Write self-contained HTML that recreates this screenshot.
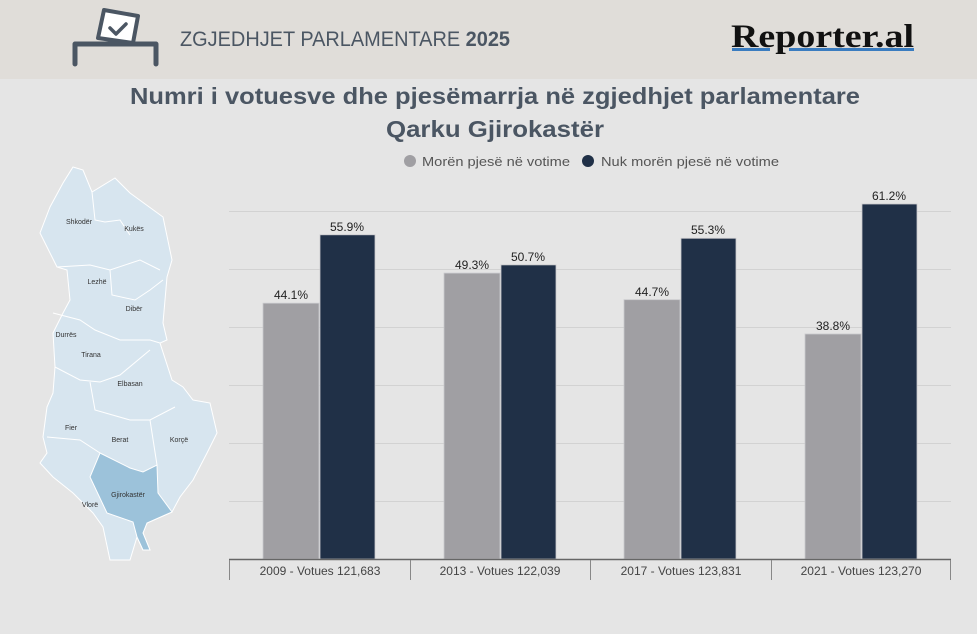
<!DOCTYPE html>
<html><head><meta charset="utf-8"><style>
body{margin:0;width:977px;height:629px;background:#e5e5e5;overflow:hidden;font-family:"Liberation Sans",sans-serif}
</style></head><body>
<svg width="977" height="629" viewBox="0 0 977 629" xmlns="http://www.w3.org/2000/svg" font-family="Liberation Sans, sans-serif">
<rect x="0" y="0" width="977" height="79" fill="#e0ddd9"/>
<g stroke="#4b5663" stroke-width="5" fill="none" stroke-linecap="round" stroke-linejoin="round">
<polygon points="104,10 138,16 133,43 98,38" fill="#fff" stroke-width="4"/>
<polyline points="110,28 116,34 126,24" stroke-width="3.5"/>
<polyline points="75,64 75,44 156,44 156,64"/>
</g>
<text x="180" y="46" font-size="21" fill="#4b5663" textLength="330" lengthAdjust="spacingAndGlyphs">ZGJEDHJET PARLAMENTARE <tspan font-weight="bold">2025</tspan></text>
<text x="731" y="47" font-size="33" font-weight="bold" font-family="Liberation Serif, serif" fill="#111" textLength="183" lengthAdjust="spacingAndGlyphs">Reporter.al</text>
<rect x="732" y="48" width="38" height="3" fill="#3a7cc0"/>
<rect x="789" y="48" width="125" height="3" fill="#3a7cc0"/>
<text x="495" y="104" font-size="23" font-weight="bold" fill="#4b5663" text-anchor="middle" textLength="730" lengthAdjust="spacingAndGlyphs">Numri i votuesve dhe pjesëmarrja në zgjedhjet parlamentare</text>
<text x="495" y="137" font-size="23" font-weight="bold" fill="#4b5663" text-anchor="middle" textLength="218" lengthAdjust="spacingAndGlyphs">Qarku Gjirokastër</text>
<circle cx="410" cy="161" r="6" fill="#a09fa3"/>
<text x="422" y="166" font-size="13" fill="#555" textLength="148" lengthAdjust="spacingAndGlyphs">Morën pjesë në votime</text>
<circle cx="588" cy="161" r="6" fill="#203047"/>
<text x="601" y="166" font-size="13" fill="#555" textLength="178" lengthAdjust="spacingAndGlyphs">Nuk morën pjesë në votime</text>
<polygon points="73,167 83,170 92,192 115,178 130,193 163,217 172,260 167,277 163,323 167,340 160,343 172,380 183,387 193,400 210,403 217,433 207,453 193,480 180,497 172,512 147,523 143,533 150,550 143,550 137,537 130,560 110,560 103,527 93,513 73,493 53,477 40,463 47,453 43,437 47,407 53,393 55,367 53,333 63,313 70,300 67,270 57,267 40,233 50,207 63,183" fill="#d7e5ef" stroke="#fff" stroke-width="1"/>
<polygon points="100,453 130,468 143,472 157,465 158,493 172,512 147,523 143,533 150,550 143,550 137,537 133,522 107,513 90,477" fill="#9cc2da" stroke="#fff" stroke-width="1"/>
<g stroke="#fff" stroke-width="1" fill="none">
<polyline points="92,192 95,220 105,222 120,220 130,235"/>
<polyline points="57,267 90,265 110,270 140,260 160,270"/>
<polyline points="110,270 112,295 135,300 150,290 163,280"/>
<polyline points="53,313 80,320 95,330 120,340 150,340 160,343"/>
<polyline points="55,367 80,380 100,382 120,375 150,350"/>
<polyline points="90,382 95,410 130,420 150,420 175,407"/>
<polyline points="47,437 80,440 100,453"/>
<polyline points="150,420 157,465"/>
</g>
<g font-size="7" fill="#333" text-anchor="middle">
<text x="79" y="224">Shkodër</text><text x="134" y="231">Kukës</text><text x="97" y="284">Lezhë</text>
<text x="134" y="311">Dibër</text><text x="66" y="337">Durrës</text><text x="91" y="357">Tirana</text>
<text x="130" y="386">Elbasan</text><text x="71" y="430">Fier</text><text x="120" y="442">Berat</text>
<text x="179" y="442">Korçë</text><text x="128" y="497">Gjirokastër</text><text x="90" y="507">Vlorë</text>
</g>
<g stroke="#d2d2d2" stroke-width="1">
<line x1="229" y1="211.5" x2="951" y2="211.5"/><line x1="229" y1="269.5" x2="951" y2="269.5"/>
<line x1="229" y1="327.5" x2="951" y2="327.5"/><line x1="229" y1="385.5" x2="951" y2="385.5"/>
<line x1="229" y1="443.5" x2="951" y2="443.5"/><line x1="229" y1="501.5" x2="951" y2="501.5"/>
</g>
<g stroke="#c9c9cc" stroke-width="0.8">
<rect x="263" y="303.2" width="56" height="255.8" fill="#a09fa3"/>
<rect x="320" y="234.8" width="55" height="324.2" fill="#203047"/>
<rect x="444" y="273.1" width="56" height="285.9" fill="#a09fa3"/>
<rect x="501" y="264.9" width="55" height="294.1" fill="#203047"/>
<rect x="624" y="299.7" width="56" height="259.3" fill="#a09fa3"/>
<rect x="681" y="238.3" width="55" height="320.7" fill="#203047"/>
<rect x="805" y="334" width="56" height="225" fill="#a09fa3"/>
<rect x="862" y="204" width="55" height="355" fill="#203047"/>
</g>
<g font-size="12" fill="#222" text-anchor="middle">
<text x="291" y="299">44.1%</text><text x="347" y="231">55.9%</text>
<text x="472" y="269">49.3%</text><text x="528" y="261">50.7%</text>
<text x="652" y="296">44.7%</text><text x="708" y="234">55.3%</text>
<text x="833" y="330">38.8%</text><text x="889" y="200">61.2%</text>
</g>
<line x1="229" y1="559.5" x2="951" y2="559.5" stroke="#666" stroke-width="1.5"/>
<g stroke="#888" stroke-width="1">
<line x1="229.5" y1="560" x2="229.5" y2="580"/><line x1="410.5" y1="560" x2="410.5" y2="580"/>
<line x1="590.5" y1="560" x2="590.5" y2="580"/><line x1="771.5" y1="560" x2="771.5" y2="580"/>
<line x1="950.5" y1="560" x2="950.5" y2="580"/>
</g>
<g font-size="12" fill="#444" text-anchor="middle">
<text x="320" y="575">2009 - Votues 121,683</text><text x="500" y="575">2013 - Votues 122,039</text>
<text x="681" y="575">2017 - Votues 123,831</text><text x="861" y="575">2021 - Votues 123,270</text>
</g>
</svg>
</body></html>
